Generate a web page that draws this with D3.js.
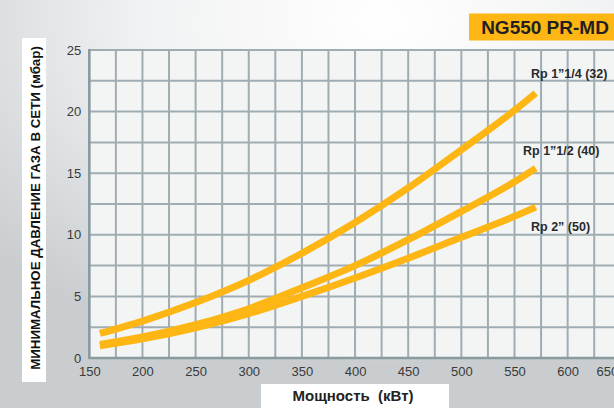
<!DOCTYPE html>
<html><head><meta charset="utf-8">
<script src="https://cdn.jsdelivr.net/npm/d3@7"></script>
<style>
html,body{margin:0;padding:0;overflow:hidden;}
svg{display:block;font-family:"Liberation Sans",Arial,sans-serif;}
</style></head>
<body>
<svg id="chart" width="614" height="408"></svg>
<script>
// ---- data ----
const power = [160, 200, 250, 300, 350, 400, 450, 500, 550, 570];
const rp114 = [2.0, 3.0, 4.5, 6.3, 8.5, 11.0, 13.8, 16.9, 20.1, 21.5];
const rp112 = [1.1, 1.7, 2.7, 4.0, 5.7, 7.5, 9.6, 11.9, 14.3, 15.4];
const rp2   = [1.0, 1.55, 2.45, 3.6, 5.0, 6.5, 8.1, 9.8, 11.5, 12.25];
const seriesNames = ["Rp 1\u201D1/4 (32)", "Rp 1\u201D1/2 (40)", "Rp 2\u201D (50)"];
const xTicks = [150, 200, 250, 300, 350, 400, 450, 500, 550, 600, 650];
const yTicks = [0, 5, 10, 15, 20, 25];
const xGrid = d3.range(150, 651, 25);
const yGrid = d3.range(0, 25.01, 2.5);
const title = "NG550 PR-MD";
const xTitle = "Мощность  (кВт)";
const yTitle = "МИНИМАЛЬНОЕ ДАВЛЕНИЕ ГАЗА В СЕТИ (мбар)";

const svg = d3.select("#chart");
const W = 614, H = 408;

// background gradient
const defs = svg.append("defs");
const rg = defs.append("radialGradient").attr("id","bg")
  .attr("cx","62%").attr("cy","5%").attr("r","85%");
rg.append("stop").attr("offset","0%").attr("stop-color","#ffffff");
rg.append("stop").attr("offset","45%").attr("stop-color","#f1f2f3");
rg.append("stop").attr("offset","100%").attr("stop-color","#c9cdd0");
svg.append("rect").attr("width",W).attr("height",H).attr("fill","url(#bg)");

const x = d3.scaleLinear().domain([150, 650]).range([89.3, 620.8]);
const y = d3.scaleLinear().domain([0, 25]).range([358, 50]);

// plot background
svg.append("rect").attr("x", x(150)).attr("y", y(25))
  .attr("width", x(650) - x(150)).attr("height", y(0) - y(25))
  .attr("fill", "#f3f5f5");

// grid
const gridColor = "#9fadb3";
svg.append("g").selectAll("line").data(xGrid).join("line")
  .attr("x1", d => x(d)).attr("x2", d => x(d))
  .attr("y1", y(25)).attr("y2", y(0))
  .attr("stroke", gridColor).attr("stroke-width", 2);
svg.append("g").selectAll("line").data(yGrid).join("line")
  .attr("x1", x(150)).attr("x2", x(650))
  .attr("y1", d => y(d)).attr("y2", d => y(d))
  .attr("stroke", gridColor).attr("stroke-width", 2);
// axis lines
svg.append("line").attr("x1", x(150)).attr("x2", x(150)).attr("y1", y(25)-1).attr("y2", y(0)+1)
  .attr("stroke", "#8a9aa1").attr("stroke-width", 2.5);
svg.append("line").attr("x1", x(150)).attr("x2", x(650)).attr("y1", y(0)).attr("y2", y(0))
  .attr("stroke", "#8a9aa1").attr("stroke-width", 2.5);

// axes tick labels
const xAxis = svg.append("g").attr("transform", `translate(0,${y(0)})`)
  .call(d3.axisBottom(x).tickValues(xTicks).tickSize(0).tickPadding(9).tickFormat(d3.format("d")));
xAxis.select(".domain").remove();
xAxis.selectAll("text").attr("font-size", 13).attr("fill", "#3a3a3a")
  .attr("font-family", "'Liberation Sans', Arial, sans-serif")
  .attr("dx", d => d === 650 ? -14 : 0);

const yAxis = svg.append("g").attr("transform", `translate(${x(150) - 8},0)`)
  .call(d3.axisLeft(y).tickValues(yTicks).tickSize(0).tickPadding(0).tickFormat(d3.format("d")));
yAxis.select(".domain").remove();
yAxis.selectAll("text").attr("font-size", 13).attr("fill", "#3a3a3a")
  .attr("font-family", "'Liberation Sans', Arial, sans-serif");

// curves
const line = d3.line().x(d => x(d[0])).y(d => y(d[1])).curve(d3.curveMonotoneX);
const allSeries = [rp114, rp112, rp2];
svg.append("g").selectAll("path").data(allSeries).join("path")
  .attr("d", s => line(power.map((p, i) => [p, s[i]])))
  .attr("fill", "none").attr("stroke", "#fdb614").attr("stroke-width", 7)
  .attr("stroke-linecap", "butt");

// series labels
const labelPos = [[531, 78], [523, 155], [531, 231]];
svg.append("g").selectAll("text").data(seriesNames).join("text")
  .attr("x", (d, i) => labelPos[i][0]).attr("y", (d, i) => labelPos[i][1])
  .attr("font-size", 12.5).attr("font-weight", "bold").attr("fill", "#2a2a2a")
  .text(d => d);

// title box
svg.append("rect").attr("x", 469).attr("y", 13.5).attr("width", 150).attr("height", 27)
  .attr("fill", "#fdb614");
svg.append("text").attr("x", 545).attr("y", 34).attr("text-anchor", "middle")
  .attr("font-size", 19).attr("font-weight", "bold").attr("fill", "#231f20")
  .text(title);

// x title
svg.append("rect").attr("x", 261).attr("y", 384).attr("width", 188).attr("height", 24).attr("fill", "#ffffff");
svg.append("text").attr("x", 353).attr("y", 401).attr("text-anchor", "middle")
  .attr("font-size", 15).attr("font-weight", "bold").attr("fill", "#222")
  .style("white-space", "pre")
  .text(xTitle);

// y title
svg.append("rect").attr("x", 22).attr("y", 38).attr("width", 24).attr("height", 344).attr("fill", "#ffffff");
svg.append("text").attr("transform", "translate(39.5,208) rotate(-90)")
  .attr("text-anchor", "middle").attr("font-size", 13.3).attr("font-weight", "bold").attr("fill", "#111")
  .text(yTitle);
</script>
</body></html>
